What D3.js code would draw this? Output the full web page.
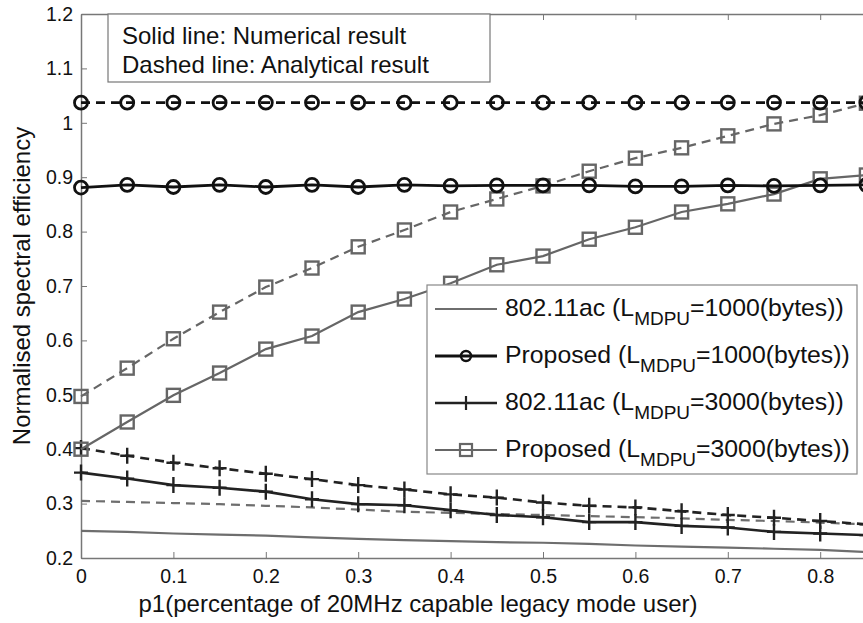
<!DOCTYPE html>
<meta charset="utf-8">
<style>
  body { margin: 0; background: #fff; }
  svg { font-family: "Liberation Sans", Arial, Helvetica, sans-serif; }
  .tick text { font-size: 19.5px; fill: #111; }
  .lbl { font-size: 24px; fill: #111; }
</style>
<svg width="863" height="623"></svg>
<script src="https://cdn.jsdelivr.net/npm/d3@7"></script>
<script>

// x values (p1)
const p1 = [0, 0.05, 0.1, 0.15, 0.2, 0.25, 0.3, 0.35, 0.4, 0.45, 0.5, 0.55, 0.6, 0.65, 0.7, 0.75, 0.8, 0.85];

// 802.11ac, L=1000
const ac1000Num = [0.250, 0.248, 0.245, 0.243, 0.241, 0.238, 0.235, 0.233, 0.231, 0.229, 0.228, 0.226, 0.223, 0.221, 0.219, 0.217, 0.215, 0.211];
const ac1000Ana = [0.305, 0.303, 0.301, 0.299, 0.296, 0.293, 0.289, 0.285, 0.283, 0.281, 0.279, 0.277, 0.275, 0.273, 0.270, 0.268, 0.265, 0.262];
// proposed, L=1000
const pr1000Num = [0.881, 0.886, 0.882, 0.886, 0.882, 0.886, 0.882, 0.886, 0.884, 0.885, 0.885, 0.885, 0.883, 0.883, 0.885, 0.884, 0.885, 0.886];
const pr1000Ana = [1.037, 1.037, 1.037, 1.037, 1.037, 1.037, 1.037, 1.037, 1.037, 1.037, 1.037, 1.037, 1.037, 1.037, 1.037, 1.037, 1.037, 1.037];
// 802.11ac, L=3000
const ac3000Num = [0.357, 0.346, 0.334, 0.329, 0.322, 0.308, 0.299, 0.297, 0.288, 0.279, 0.275, 0.266, 0.266, 0.259, 0.256, 0.248, 0.245, 0.242];
const ac3000Ana = [0.402, 0.388, 0.375, 0.365, 0.355, 0.345, 0.334, 0.326, 0.317, 0.311, 0.302, 0.296, 0.293, 0.286, 0.279, 0.274, 0.268, 0.262];
// proposed, L=3000
const pr3000Num = [0.400, 0.450, 0.499, 0.540, 0.584, 0.608, 0.652, 0.676, 0.705, 0.739, 0.755, 0.786, 0.808, 0.836, 0.851, 0.869, 0.897, 0.904];
const pr3000Ana = [0.497, 0.549, 0.603, 0.652, 0.698, 0.733, 0.772, 0.803, 0.836, 0.860, 0.884, 0.911, 0.935, 0.954, 0.976, 0.998, 1.014, 1.036];

const xTicks = [0, 0.1, 0.2, 0.3, 0.4, 0.5, 0.6, 0.7, 0.8];
const yTicks = [0.2, 0.3, 0.4, 0.5, 0.6, 0.7, 0.8, 0.9, 1, 1.1, 1.2];

const legendItems = [
  {name: "802.11ac (L", sub: "MDPU", rest: "=1000(bytes))", color: "#6e6e6e", width: 2.2, marker: null},
  {name: "Proposed (L", sub: "MDPU", rest: "=1000(bytes))", color: "#111", width: 2.8, marker: "circle"},
  {name: "802.11ac (L", sub: "MDPU", rest: "=3000(bytes))", color: "#222", width: 2.6, marker: "plus"},
  {name: "Proposed (L", sub: "MDPU", rest: "=3000(bytes))", color: "#666", width: 2.2, marker: "square"}
];

const series = [
  {y: ac1000Num, s: 0, dash: null},
  {y: ac1000Ana, s: 0, dash: "9,6"},
  {y: ac3000Ana, s: 2, dash: "9,6"},
  {y: ac3000Num, s: 2, dash: null},
  {y: pr3000Ana, s: 3, dash: "9,6"},
  {y: pr3000Num, s: 3, dash: null},
  {y: pr1000Ana, s: 1, dash: "9,6"},
  {y: pr1000Num, s: 1, dash: null}
];

const svg = d3.select("svg");
const mLeft = 81, mTop = 14, mBottom = 558;

const x = d3.scaleLinear().domain([0, 1]).range([mLeft, mLeft + 924]);
const y = d3.scaleLinear().domain([0.2, 1.2]).range([mBottom, mTop]);

// axes
svg.append("g")
  .attr("transform", `translate(0,${mBottom})`)
  .call(d3.axisBottom(x).tickValues(xTicks).tickFormat(d3.format("")).tickSizeInner(-6).tickSizeOuter(0).tickPadding(11))
  .call(g => g.select(".domain").attr("stroke", "#777").attr("stroke-width", 1.5))
  .call(g => g.selectAll(".tick line").attr("stroke", "#777"));

svg.append("g")
  .attr("transform", `translate(0,${mTop})`)
  .call(d3.axisTop(x).tickValues(xTicks).tickFormat("").tickSizeInner(-6).tickSizeOuter(0))
  .call(g => g.select(".domain").attr("stroke", "#777").attr("stroke-width", 1.5))
  .call(g => g.selectAll(".tick line").attr("stroke", "#777"));

svg.append("g")
  .attr("transform", `translate(${mLeft},0)`)
  .call(d3.axisLeft(y).tickValues(yTicks).tickFormat(d3.format("")).tickSizeInner(-6).tickSizeOuter(0).tickPadding(8))
  .call(g => g.select(".domain").attr("stroke", "#777").attr("stroke-width", 1.5))
  .call(g => g.selectAll(".tick line").attr("stroke", "#777"));

// marker drawing
function drawMarker(g, type, cx, cy, color) {
  if (type === "circle") {
    g.append("circle").attr("cx", cx).attr("cy", cy).attr("r", 6.5)
      .attr("fill", "none").attr("stroke", color).attr("stroke-width", 2.8);
  } else if (type === "square") {
    g.append("rect").attr("x", cx - 6.5).attr("y", cy - 6.5).attr("width", 13).attr("height", 13)
      .attr("fill", "none").attr("stroke", color).attr("stroke-width", 2.4);
  } else if (type === "plus") {
    g.append("path").attr("d", `M${cx - 7},${cy}H${cx + 7}M${cx},${cy - 8}V${cy + 8}`)
      .attr("fill", "none").attr("stroke", color).attr("stroke-width", 2.4);
  }
}

const line = d3.line().x((d, i) => x(p1[i])).y(d => y(d));

const plot = svg.append("g");
series.forEach(sr => {
  const st = legendItems[sr.s];
  plot.append("path")
    .datum(sr.y)
    .attr("d", line)
    .attr("fill", "none")
    .attr("stroke", st.color)
    .attr("stroke-width", st.width)
    .attr("stroke-dasharray", sr.dash);
  if (st.marker) {
    const mg = plot.append("g");
    sr.y.forEach((v, i) => drawMarker(mg, st.marker, x(p1[i]), y(v), st.color));
  }
});

// text box top-left
svg.append("rect").attr("x", 108).attr("y", 14).attr("width", 382).attr("height", 68)
  .attr("fill", "#fff").attr("stroke", "#777").attr("stroke-width", 1.2);
svg.append("text").attr("class", "lbl").attr("x", 122).attr("y", 44).text("Solid line: Numerical result");
svg.append("text").attr("class", "lbl").attr("x", 122).attr("y", 73).text("Dashed line: Analytical result");

// legend
const lg = svg.append("g");
lg.append("rect").attr("x", 427).attr("y", 285).attr("width", 430).attr("height", 189)
  .attr("fill", "#fff").attr("stroke", "#888").attr("stroke-width", 1.2);
legendItems.forEach((d, i) => {
  const cy = 309 + i * 47;
  lg.append("line").attr("x1", 435).attr("x2", 497).attr("y1", cy).attr("y2", cy)
    .attr("stroke", d.color).attr("stroke-width", d.width);
  if (d.marker) {
    const mg = lg.append("g");
    const mc = d.marker === "plus" ? "#222" : d.color;
    if (d.marker === "circle") {
      mg.append("circle").attr("cx", 466).attr("cy", cy).attr("r", 5)
        .attr("fill", "none").attr("stroke", mc).attr("stroke-width", 2.4);
    } else if (d.marker === "square") {
      mg.append("rect").attr("x", 460).attr("y", cy - 6).attr("width", 12).attr("height", 12)
        .attr("fill", "none").attr("stroke", mc).attr("stroke-width", 2.2);
    } else {
      mg.append("path").attr("d", `M466,${cy - 7}V${cy + 7}`).attr("stroke", mc).attr("stroke-width", 2.2);
    }
  }
  const t = lg.append("text").attr("class", "lbl").attr("x", 505).attr("y", cy + 7)
    .attr("font-size", 24.8).style("font-size", "24.8px");
  t.append("tspan").text(d.name);
  t.append("tspan").attr("dy", 9).style("font-size", "19px").text(d.sub);
  t.append("tspan").attr("dy", -9).text(d.rest);
});

// axis titles
svg.append("text").attr("class", "lbl")
  .attr("text-anchor", "middle")
  .attr("transform", `translate(30,${(mTop + mBottom) / 2}) rotate(-90)`)
  .text("Normalised spectral efficiency");
svg.append("text").attr("class", "lbl")
  .attr("text-anchor", "middle")
  .attr("x", 418).attr("y", 612)
  .text("p1(percentage of 20MHz capable legacy mode user)");
</script>
